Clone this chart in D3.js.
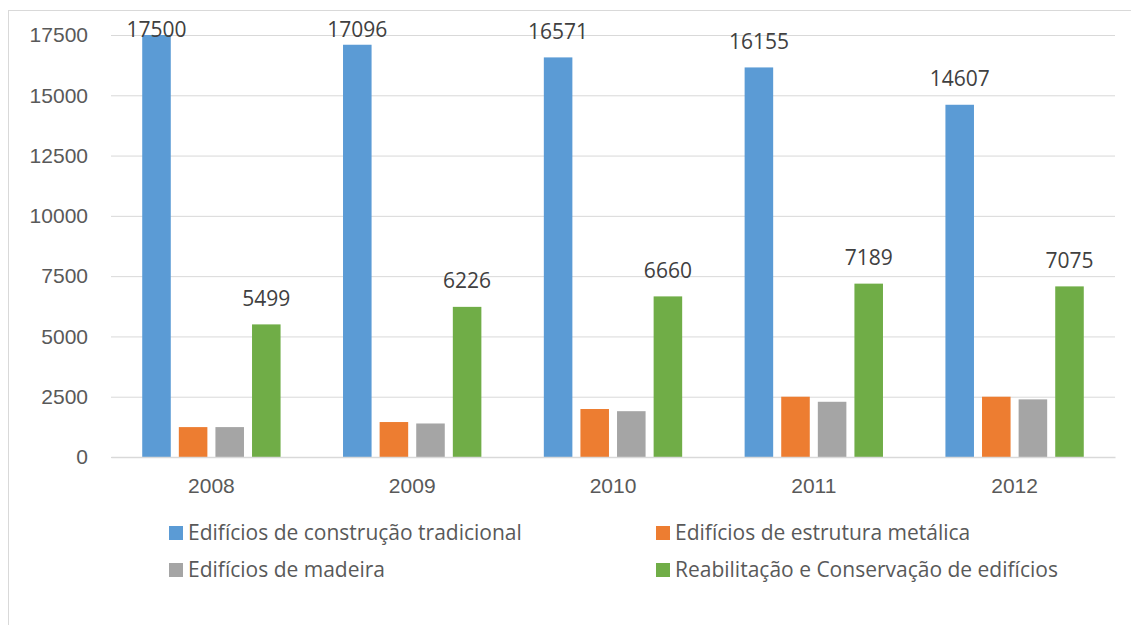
<!DOCTYPE html>
<html>
<head>
<meta charset="utf-8">
<script src="https://cdn.jsdelivr.net/npm/d3@7"></script>
<style>
  body { margin: 0; background: #fff; }
  svg { font-family: "Open Sans", "Noto Sans", sans-serif; }
</style>
</head>
<body>
<svg id="drawing_region"></svg>
<script>
// data
const years = ['2008', '2009', '2010', '2011', '2012'];
const series = [
    'Edifícios de construção tradicional',
    'Edifícios de estrutura metálica',
    'Edifícios de madeira',
    'Reabilitação e Conservação de edifícios'
];
const tradicional = [17500, 17096, 16571, 16155, 14607];
const metalica = [1240, 1450, 1990, 2500, 2500];
const madeira = [1240, 1390, 1900, 2290, 2390];
const reabilitacao = [5499, 6226, 6660, 7189, 7075];
const yTicks = [0, 2500, 5000, 7500, 10000, 12500, 15000, 17500];
const colors = ['#5b9bd5', '#ed7d31', '#a5a5a5', '#70ad47'];
const labelled = [true, false, false, true];

const values = [tradicional, metalica, madeira, reabilitacao];
const data = years.map((y, i) => ({
    year: y,
    vals: values.map((v, s) => ({ s: s, value: v[i] }))
}));

const config = {
    width: 1131,
    height: 625,
    margin: {top: 35, right: 16, bottom: 168, left: 111}
};

const svg = d3.select('#drawing_region')
    .attr('width', config.width)
    .attr('height', config.height);

// chart border
svg.append('rect')
    .attr('x', 8.5).attr('y', 10.5)
    .attr('width', 1140).attr('height', 640)
    .attr('fill', 'none')
    .attr('stroke', '#d9d9d9');

const inner_width = config.width - config.margin.left - config.margin.right;
const inner_height = config.height - config.margin.top - config.margin.bottom;

const chart = svg.append('g')
    .attr('transform', `translate(${config.margin.left}, ${config.margin.top})`);

const yscale = d3.scaleLinear()
    .domain([0, 17500])
    .range([inner_height, 0]);

const x0 = d3.scaleBand()
    .domain(years)
    .range([0, inner_width])
    .paddingInner(0.311)
    .paddingOuter(0.1555);

const x1 = d3.scaleBand()
    .domain(d3.range(series.length))
    .range([0, x0.bandwidth()])
    .paddingInner(0.22);

// gridlines
const yaxis = d3.axisLeft(yscale)
    .tickValues(yTicks)
    .tickSize(-inner_width)
    .tickPadding(23)
    .tickFormat(d3.format('d'));

const yaxis_group = chart.append('g').call(yaxis);
yaxis_group.select('.domain').remove();
yaxis_group.selectAll('.tick line').attr('stroke', '#d9d9d9');
yaxis_group.selectAll('.tick text')
    .attr('fill', '#595959')
    .style('font-size', '21px');

// bars
const groups = chart.selectAll('.grp')
    .data(data)
    .join('g')
    .attr('class', 'grp')
    .attr('transform', d => `translate(${x0(d.year)}, 0)`);

groups.selectAll('rect')
    .data(d => d.vals)
    .join('rect')
    .attr('x', d => x1(d.s))
    .attr('y', d => yscale(d.value))
    .attr('width', x1.bandwidth())
    .attr('height', d => inner_height - yscale(d.value))
    .attr('fill', d => colors[d.s]);

// value labels
groups.selectAll('text.val')
    .data(d => d.vals.filter(v => labelled[v.s]))
    .join('text')
    .attr('class', 'val')
    .attr('x', d => x1(d.s) + x1.bandwidth() / 2)
    .attr('y', d => Math.max(yscale(d.value) - 26, -5))
    .attr('dy', '0.35em')
    .attr('text-anchor', 'middle')
    .attr('fill', '#404040')
    .style('font-size', '21px')
    .text(d => d.value);

// x axis
const xaxis = d3.axisBottom(x0).tickSize(0).tickPadding(21).tickSizeOuter(0);
const xaxis_group = chart.append('g')
    .attr('transform', `translate(0, ${inner_height})`)
    .call(xaxis);
xaxis_group.select('.domain').attr('stroke', '#d9d9d9').attr('stroke-width', 1.5);
xaxis_group.selectAll('.tick text')
    .attr('fill', '#595959')
    .style('font-size', '21px');

// legend
const legendPos = [[169, 533], [656, 533], [169, 570], [656, 570]];
const legend = svg.append('g');
const items = legend.selectAll('g')
    .data(series)
    .join('g')
    .attr('transform', (d, i) => `translate(${legendPos[i][0]}, ${legendPos[i][1]})`);
items.append('rect')
    .attr('x', 0).attr('y', -7)
    .attr('width', 14).attr('height', 14)
    .attr('fill', (d, i) => colors[i]);
items.append('text')
    .attr('x', 19)
    .attr('dy', '0.35em')
    .attr('fill', '#595959')
    .style('font-size', '21px')
    .text(d => d);
</script>
</body>
</html>
